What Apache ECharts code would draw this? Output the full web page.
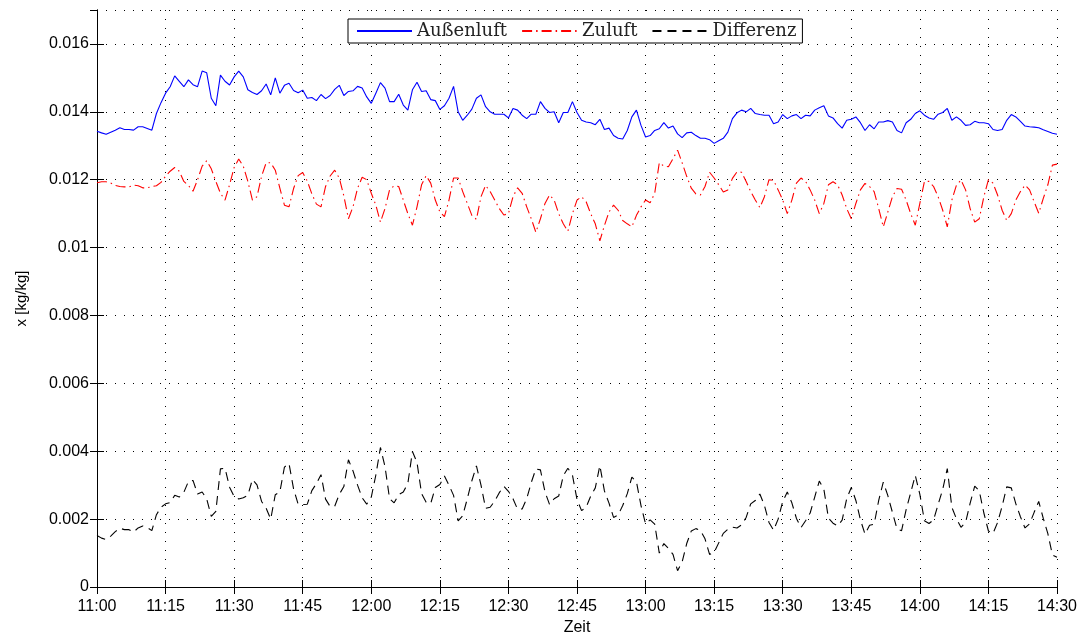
<!DOCTYPE html>
<html>
<head>
<meta charset="utf-8">
<script src="https://cdn.jsdelivr.net/npm/echarts@6/dist/echarts.min.js"></script>
<style>html,body{margin:0;padding:0;background:#fff}#c{width:1083px;height:635px}</style>
</head>
<body>
<div id="c"></div>
<script>
const xTicks = ['11:00','11:15','11:30','11:45','12:00','12:15','12:30','12:45','13:00','13:15','13:30','13:45','14:00','14:15','14:30'];
const yTicks = [0,0.002,0.004,0.006,0.008,0.01,0.012,0.014,0.016];

const aussenluft = [
0.01343,0.01338,0.01334,0.01340,0.01346,0.01353,0.01348,0.01348,0.01346,0.01356,
0.01356,0.01351,0.01346,0.01395,0.01427,0.01455,0.01474,0.01506,0.01490,0.01474,
0.01494,0.01480,0.01474,0.01520,0.01515,0.01440,0.01418,0.01508,0.01490,0.01479,
0.01503,0.01520,0.01503,0.01465,0.01457,0.01451,0.01462,0.01482,0.01450,0.01500,
0.01455,0.01478,0.01484,0.01463,0.01456,0.01464,0.01440,0.01442,0.01433,0.01451,
0.01439,0.01448,0.01466,0.01478,0.01448,0.01460,0.01462,0.01475,0.01470,0.01444,
0.01425,0.01455,0.01486,0.01470,0.01430,0.01430,0.01452,0.01420,0.01405,0.01465,
0.01487,0.01460,0.01462,0.01436,0.01433,0.01407,0.01418,0.01440,0.01475,0.01400,
0.01375,0.01390,0.01408,0.01440,0.01450,0.01415,0.01400,0.01393,0.01393,0.01393,
0.01382,0.01410,0.01405,0.01390,0.01380,0.01393,0.01393,0.01430,0.01410,0.01398,
0.01400,0.01368,0.01398,0.01398,0.01430,0.01398,0.01375,0.01370,0.01368,0.01362,
0.01378,0.01348,0.01352,0.01330,0.01322,0.01320,0.01345,0.01385,0.01405,0.01360,
0.01326,0.01330,0.01345,0.01350,0.01368,0.01352,0.01358,0.01335,0.01324,0.01338,
0.01340,0.01330,0.01322,0.01322,0.01318,0.01307,0.01315,0.01322,0.01340,0.01380,
0.01397,0.01405,0.01400,0.01410,0.01395,0.01392,0.01390,0.01390,0.01365,0.01370,
0.01392,0.01380,0.01388,0.01392,0.01380,0.01390,0.01388,0.01405,0.01412,0.01418,
0.01388,0.01382,0.01365,0.01352,0.01375,0.01378,0.01385,0.01368,0.01345,0.01362,
0.01350,0.01370,0.01370,0.01374,0.01370,0.01345,0.01338,0.01368,0.01378,0.01395,
0.01403,0.01390,0.01382,0.01378,0.01393,0.01398,0.01410,0.01375,0.01385,0.01375,
0.01360,0.01362,0.01372,0.01368,0.01368,0.01365,0.01348,0.01345,0.01348,0.01375,
0.01392,0.01385,0.01372,0.01358,0.01356,0.01355,0.01353,0.01347,0.01342,0.01337,
0.01334];

const zuluft = [
0.01191,0.01194,0.01194,0.01190,0.01183,0.01180,0.01179,0.01179,0.01184,0.01182,
0.01176,0.01176,0.01180,0.01182,0.01192,0.01210,0.01225,0.01236,0.01225,0.01195,
0.01183,0.01166,0.01200,0.01240,0.01256,0.01232,0.01195,0.01160,0.01140,0.01185,
0.01236,0.01261,0.01240,0.01195,0.01140,0.01150,0.01210,0.01250,0.01250,0.01228,
0.01175,0.01125,0.01120,0.01174,0.01212,0.01221,0.01196,0.01158,0.01128,0.01120,
0.01180,0.01211,0.01228,0.01205,0.01152,0.01085,0.01120,0.01175,0.01207,0.01200,
0.01160,0.01125,0.01075,0.01115,0.01170,0.01182,0.01180,0.01140,0.01100,0.01066,
0.01120,0.01185,0.01212,0.01190,0.01140,0.01105,0.01091,0.01140,0.01205,0.01205,
0.01165,0.01130,0.01095,0.01083,0.01150,0.01183,0.01165,0.01140,0.01115,0.01096,
0.01100,0.01150,0.01176,0.01160,0.01120,0.01085,0.01045,0.01085,0.01130,0.01155,
0.01140,0.01100,0.01070,0.01048,0.01100,0.01140,0.01150,0.01135,0.01100,0.01070,
0.01020,0.01065,0.01105,0.01125,0.01110,0.01080,0.01070,0.01061,0.01095,0.01120,
0.01140,0.01132,0.01160,0.01250,0.01240,0.01238,0.01262,0.01287,0.01250,0.01210,
0.01175,0.01158,0.01155,0.01180,0.01222,0.01205,0.01185,0.01164,0.01170,0.01204,
0.01223,0.01222,0.01195,0.01165,0.01140,0.01118,0.01150,0.01200,0.01198,0.01170,
0.01140,0.01100,0.01140,0.01190,0.01205,0.01195,0.01170,0.01140,0.01100,0.01130,
0.01185,0.01194,0.01185,0.01155,0.01115,0.01085,0.01130,0.01170,0.01189,0.01180,
0.01165,0.01115,0.01061,0.01105,0.01150,0.01174,0.01172,0.01140,0.01100,0.01066,
0.01130,0.01195,0.01195,0.01180,0.01150,0.01110,0.01061,0.01140,0.01184,0.01199,
0.01170,0.01115,0.01075,0.01085,0.01150,0.01200,0.01190,0.01155,0.01110,0.01080,
0.01100,0.01140,0.01165,0.01184,0.01170,0.01135,0.01101,0.01145,0.01185,0.01243,
0.01246];

const differenz = [
0.00152,0.00144,0.00140,0.00150,0.00163,0.00173,0.00169,0.00169,0.00162,0.00174,
0.00180,0.00175,0.00166,0.00213,0.00235,0.00245,0.00249,0.00270,0.00265,0.00279,
0.00311,0.00314,0.00274,0.00280,0.00259,0.00208,0.00223,0.00348,0.00350,0.00294,
0.00267,0.00259,0.00263,0.00270,0.00317,0.00301,0.00252,0.00232,0.00200,0.00272,
0.00280,0.00353,0.00364,0.00289,0.00244,0.00243,0.00244,0.00284,0.00305,0.00331,
0.00259,0.00237,0.00238,0.00273,0.00296,0.00375,0.00342,0.00300,0.00263,0.00244,
0.00265,0.00330,0.00411,0.00355,0.00260,0.00248,0.00272,0.00280,0.00305,0.00399,
0.00367,0.00275,0.00250,0.00246,0.00293,0.00302,0.00327,0.00300,0.00270,0.00195,
0.00210,0.00260,0.00313,0.00357,0.00300,0.00232,0.00235,0.00253,0.00278,0.00297,
0.00282,0.00260,0.00229,0.00230,0.00260,0.00308,0.00348,0.00345,0.00280,0.00243,
0.00260,0.00268,0.00328,0.00350,0.00330,0.00258,0.00225,0.00235,0.00268,0.00292,
0.00358,0.00283,0.00247,0.00205,0.00212,0.00240,0.00275,0.00324,0.00310,0.00240,
0.00186,0.00198,0.00185,0.00100,0.00128,0.00114,0.00096,0.00048,0.00074,0.00128,
0.00165,0.00172,0.00167,0.00142,0.00096,0.00102,0.00130,0.00158,0.00170,0.00176,
0.00174,0.00183,0.00205,0.00245,0.00255,0.00274,0.00240,0.00190,0.00167,0.00200,
0.00252,0.00280,0.00248,0.00202,0.00175,0.00195,0.00218,0.00265,0.00312,0.00288,
0.00203,0.00188,0.00180,0.00197,0.00260,0.00293,0.00255,0.00198,0.00156,0.00182,
0.00185,0.00255,0.00309,0.00269,0.00220,0.00171,0.00166,0.00228,0.00278,0.00329,
0.00273,0.00195,0.00187,0.00198,0.00243,0.00288,0.00349,0.00235,0.00201,0.00176,
0.00190,0.00247,0.00297,0.00283,0.00218,0.00165,0.00158,0.00190,0.00238,0.00295,
0.00292,0.00245,0.00207,0.00174,0.00186,0.00220,0.00252,0.00202,0.00157,0.00094,
0.00088];

const minutes = aussenluft.map((_, i) => i);
const pairs = arr => arr.map((v, i) => [minutes[i], v]);

const sans = 'Liberation Sans, Arial, sans-serif';
const serif = 'DejaVu Serif, Liberation Serif, serif';

const chart = echarts.init(document.getElementById('c'), null, {renderer: 'canvas'});
const gridLine = {show: true, lineStyle: {color: '#000', width: 1, type: [1, 8]}};
chart.setOption({
  animation: false,
  backgroundColor: '#fff',
  grid: {left: 97, right: 26, top: 10, bottom: 48, containLabel: false, outerBoundsMode: 'none'},
  legend: {
    left: 348, top: 19,
    data: ['Außenluft', 'Zuluft', 'Differenz'],
    backgroundColor: '#fff', borderColor: '#000', borderWidth: 1,
    padding: [3, 6, 3, 8], itemGap: 14, itemWidth: 55, itemHeight: 14,
    itemStyle: {color: 'rgba(0,0,0,0)', borderColor: 'rgba(0,0,0,0)', borderWidth: 0, opacity: 0},
    textStyle: {fontFamily: serif, fontSize: 18, color: '#222'}
  },
  xAxis: [{
    type: 'value', min: 0, max: 210, interval: 15,
    name: 'Zeit', nameLocation: 'middle', nameGap: 32,
    nameTextStyle: {fontFamily: sans, fontSize: 16, color: '#000'},
    axisLine: {show: true, lineStyle: {color: '#000', width: 1}},
    axisTick: {show: true, inside: true, length: 7, lineStyle: {color: '#000'}},
    axisLabel: {fontFamily: sans, fontSize: 16, color: '#000', margin: 12,
      formatter: v => xTicks[Math.round(v / 15)] || ''},
    splitLine: gridLine
  }, {
    type: 'value', min: 0, max: 210, interval: 15, position: 'top',
    axisLine: {show: true, lineStyle: {color: '#000', width: 1}},
    axisTick: {show: true, inside: true, length: 7, lineStyle: {color: '#000'}},
    axisLabel: {show: false}, splitLine: {show: false}
  }],
  yAxis: [{
    type: 'value', min: 0, max: 0.017, interval: 0.002,
    name: 'x [kg/kg]', nameLocation: 'middle', nameGap: 68, nameRotate: 90,
    nameTextStyle: {fontFamily: sans, fontSize: 15, color: '#000'},
    axisLine: {show: true, lineStyle: {color: '#000', width: 1}},
    axisTick: {show: true, inside: true, length: 7, lineStyle: {color: '#000'}},
    axisLabel: {fontFamily: sans, fontSize: 16, color: '#000', margin: 8, showMaxLabel: false,
      formatter: v => { const t = yTicks.find(y => Math.abs(y - v) < 1e-9); return t === undefined ? '' : String(t); }},
    splitLine: gridLine
  }, {
    type: 'value', min: 0, max: 0.017, interval: 0.002, position: 'right',
    axisLine: {show: true, lineStyle: {color: '#000', width: 1}},
    axisTick: {show: true, inside: true, length: 7, lineStyle: {color: '#000'}},
    axisLabel: {show: false}, splitLine: {show: false}
  }],
  series: [{
    name: 'Außenluft', type: 'line', data: pairs(aussenluft), symbol: 'none',
    lineStyle: {color: '#0000ff', width: 1.1}, itemStyle: {color: '#0000ff'}
  }, {
    name: 'Zuluft', type: 'line', data: pairs(zuluft), symbol: 'none',
    lineStyle: {color: '#ff0000', width: 1.1, type: [10, 4, 1.5, 4]}, itemStyle: {color: '#ff0000'}
  }, {
    name: 'Differenz', type: 'line', data: pairs(differenz), symbol: 'none',
    lineStyle: {color: '#000', width: 1.1, type: [9, 6]}, itemStyle: {color: '#000'}
  }]
});
</script>
</body>
</html>
